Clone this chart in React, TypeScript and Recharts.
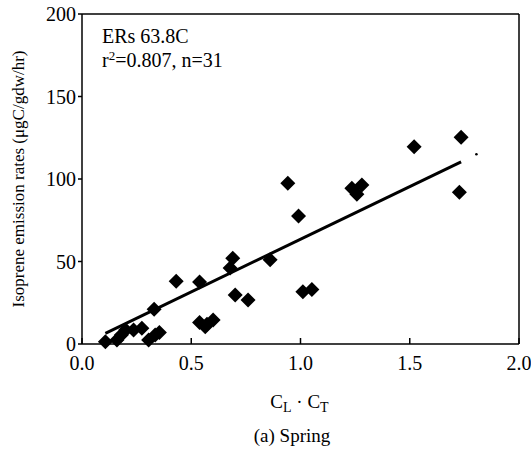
import { ScatterChart, Scatter, XAxis, YAxis, ReferenceLine, Label } from 'recharts';

document.body.style.margin = '0';

const FONT = "'Liberation Serif', 'Times New Roman', serif";

// C_L * C_T values and isoprene emission rates
const lightTemp = [
  0.107, 0.16, 0.18, 0.2, 0.236, 0.274, 0.305, 0.33, 0.335, 0.354,
  0.431, 0.538, 0.538, 0.564, 0.572, 0.6, 0.678, 0.69, 0.701, 0.76,
  0.861, 0.942, 0.991, 1.011, 1.052, 1.235, 1.258, 1.281, 1.52, 1.735, 1.727,
];
const emission = [
  1.4, 2.4, 5.5, 8.5, 8.5, 9.5, 2.4, 21, 5.5, 7,
  38, 37.6, 13, 10.5, 12, 14.5, 46, 52, 29.7, 26.7,
  51, 97.4, 77.6, 31.7, 33, 94.4, 90.7, 96.4, 119.6, 125.3, 92,
];

// regression line ends (slope ~63.8)
const fitX = [0.107, 1.735];
const fitY = [6.5, 110.4];

// stray speck on the scan
const speckX = [1.805];
const speckY = [115];

const xTicks = [0, 0.5, 1.0, 1.5, 2.0];
const yTicks = [0, 50, 100, 150, 200];

const points = lightTemp.map((x, i) => ({ x, y: emission[i] }));
const fit = fitX.map((x, i) => ({ x, y: fitY[i] }));
const speck = speckX.map((x, i) => ({ x, y: speckY[i] }));

const Diamond = (props: any) => {
  const { cx, cy } = props;
  const r = 7.5;
  return (
    <polygon
      points={`${cx},${cy - r} ${cx + r},${cy} ${cx},${cy + r} ${cx - r},${cy}`}
      fill="#000"
    />
  );
};

const XTick = (props: any) => {
  const { x, y, payload } = props;
  return (
    <g>
      <line x1={x} y1={y} x2={x} y2={y - 6} stroke="#000" strokeWidth={1.5} />
      <text x={x} y={y + 26} textAnchor="middle" fontSize={20} fontFamily={FONT} fill="#000">
        {Number(payload.value).toFixed(1)}
      </text>
    </g>
  );
};

const XLabel = (props: any) => {
  const { viewBox } = props;
  const cx = viewBox.x + viewBox.width / 2;
  return (
    <g fontFamily={FONT} fill="#000">
      <text x={cx - 1} y={viewBox.y + 64} textAnchor="middle" fontSize={19}>
        C<tspan fontSize={14} dy={4}>L</tspan>
        <tspan dy={-4}> · C</tspan>
        <tspan fontSize={14} dy={4}>T</tspan>
      </text>
      <text x={cx - 8.5} y={viewBox.y + 98} textAnchor="middle" fontSize={19}>
        (a) Spring
      </text>
    </g>
  );
};

const YLabel = (props: any) => {
  const { viewBox } = props;
  const x = viewBox.x + 18;
  const y = viewBox.y + viewBox.height / 2;
  return (
    <text
      x={x}
      y={y}
      transform={`rotate(-90 ${x} ${y})`}
      textAnchor="middle"
      dominantBaseline="central"
      fontSize={17}
      fontFamily={FONT}
      fill="#000"
    >
      Isoprene emission rates (μgC/gdw/hr)
    </text>
  );
};

const noteStyle = {
  position: 'absolute' as const,
  left: 102,
  fontFamily: FONT,
  fontSize: 20,
  lineHeight: '20px',
  color: '#000',
  whiteSpace: 'nowrap' as const,
};

export default function App() {
  return (
    <div style={{ position: 'relative', width: 531, height: 453, background: '#fff' }}>
      <ScatterChart width={531} height={453} margin={{ top: 14, right: 12, bottom: 0, left: 0 }}>
        <XAxis
          type="number"
          dataKey="x"
          domain={[0, 2]}
          ticks={xTicks}
          height={109}
          tickSize={0}
          tickMargin={0}
          tickLine={false}
          tick={<XTick />}
          axisLine={{ stroke: '#000', strokeWidth: 1.5 }}
        >
          <Label content={XLabel} />
        </XAxis>
        <YAxis
          type="number"
          dataKey="y"
          domain={[0, 200]}
          ticks={yTicks}
          width={82}
          tickSize={4}
          tickMargin={2}
          tickLine={{ stroke: '#000', strokeWidth: 1.5 }}
          axisLine={{ stroke: '#000', strokeWidth: 1.5 }}
          tick={{ fontSize: 20, fontFamily: FONT, fill: '#000' }}
        >
          <Label content={YLabel} />
        </YAxis>
        <ReferenceLine y={200} stroke="#000" strokeWidth={1.5} />
        <ReferenceLine x={2} stroke="#000" strokeWidth={1.5} />
        <Scatter data={points} shape={Diamond} isAnimationActive={false} />
        <Scatter
          data={fit}
          line={{ stroke: '#000', strokeWidth: 3 }}
          shape={() => <g />}
          isAnimationActive={false}
        />
        <Scatter
          data={speck}
          shape={(p: any) => <circle cx={p.cx} cy={p.cy} r={1.3} fill="#000" />}
          isAnimationActive={false}
        />
      </ScatterChart>
      <div style={{ ...noteStyle, top: 26 }}>ERs 63.8C</div>
      <div style={{ ...noteStyle, top: 50 }}>
        r<span style={{ fontSize: 13, position: 'relative', top: -7 }}>2</span>=0.807, n=31
      </div>
    </div>
  );
}
